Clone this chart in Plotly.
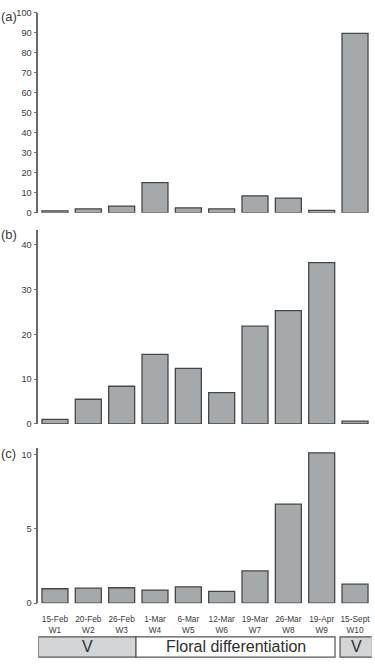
import plotly.graph_objects as go

dates = ["15-Feb", "20-Feb", "26-Feb", "1-Mar", "6-Mar", "12-Mar", "19-Mar", "26-Mar", "19-Apr", "15-Sept"]
weeks = ["W1", "W2", "W3", "W4", "W5", "W6", "W7", "W8", "W9", "W10"]
values_a = [1.0, 2.0, 3.4, 15.1, 2.5, 2.0, 8.5, 7.4, 1.2, 89.7]
values_b = [1.0, 5.5, 8.4, 15.5, 12.4, 7.0, 21.8, 25.3, 36.0, 0.6]
values_c = [0.97, 1.02, 1.04, 0.88, 1.1, 0.8, 2.17, 6.68, 10.13, 1.28]
panel_labels = ["(a)", "(b)", "(c)"]
phase_names = ["V", "Floral differentiation", "V"]
phase_bounds = [(-0.5, 2.43), (2.43, 8.4), (8.55, 9.52)]
phase_fills = ["#d3d5d7", "#ffffff", "#d3d5d7"]

W, H = 375, 665
FONT = "Liberation Sans, Arial, sans-serif"
cats = [f"{d}<br>{w}" for d, w in zip(dates, weeks)]
idx = list(range(len(cats)))

def py(px):
    return 1 - px / H

fig = go.Figure()
series = [values_a, values_b, values_c]
for i, vals in enumerate(series):
    s = "" if i == 0 else str(i + 1)
    fig.add_trace(go.Bar(
        x=idx, y=vals, xaxis="x" + s, yaxis="y" + s,
        width=0.78,
        marker=dict(color="#a6a9ab", line=dict(color="#474747", width=1.3)),
        showlegend=False,
    ))

xdom = [38.3 / W, 371.7 / W]
ydoms = [[py(211), py(8)], [py(425.3), py(228.3)], [py(607.3), py(450)]]
yranges = [[0, 100], [0, 43.3], [0, 10.44]]
ytickvals = [list(range(0, 101, 10)), [0, 10, 20, 30, 40], [0, 5, 10]]

layout = dict(
    width=W, height=H,
    margin=dict(l=0, r=0, t=0, b=0),
    paper_bgcolor="white", plot_bgcolor="white",
    font=dict(family=FONT, color="#3a3a3a"),
    bargap=0.22,
)
for i in range(3):
    s = "" if i == 0 else str(i + 1)
    layout["xaxis" + s] = dict(
        domain=xdom, range=[-0.5, 9.5], anchor="y" + s,
        showgrid=False, zeroline=False, showline=False,
        tickmode="array", tickvals=idx,
        ticktext=cats if i == 2 else [""] * len(cats),
        showticklabels=(i == 2), ticks="",
        tickfont=dict(size=8.3, color="#3a3a3a"),
        ticklabelstandoff=10,
        fixedrange=True,
    )
    layout["yaxis" + s] = dict(
        domain=ydoms[i], range=yranges[i], anchor="x" + s,
        showgrid=False, zeroline=False,
        showline=True, linecolor="#6a6a6a", linewidth=1.5,
        ticks="outside", ticklen=3, tickcolor="#6a6a6a", tickwidth=1,
        tickvals=ytickvals[i], tickfont=dict(size=9.2, color="#3a3a3a"),
        ticklabelstandoff=0,
        fixedrange=True,
    )

annotations = []
label_y = [11.5, 233.3, 455]
for lab, yy in zip(panel_labels, label_y):
    annotations.append(dict(
        text=lab, x=0, xref="paper", xanchor="left", y=py(yy), yref="paper",
        yanchor="middle", showarrow=False, borderpad=0,
        font=dict(size=13, color="#3a3a3a"),
    ))

shapes = []
for name, (x0, x1), fill in zip(phase_names, phase_bounds, phase_fills):
    shapes.append(dict(
        type="rect", xref="x3", yref="paper", x0=x0, x1=x1,
        y0=py(662), y1=py(641.5), fillcolor=fill,
        line=dict(color="#555555", width=1.2), layer="above",
    ))
    annotations.append(dict(
        text=name, x=(x0 + x1) / 2, xref="x3", y=py(651.8), yref="paper",
        xanchor="center", yanchor="middle", showarrow=False,
        font=dict(size=16, color="#2e2e2e"),
    ))

layout["annotations"] = annotations
layout["shapes"] = shapes
fig.update_layout(**layout)
fig.write_html("out.html", config={"displayModeBar": False})

with open("out.html", "r", encoding="utf-8") as f:
    html = f.read()
html = html.replace("<head>", "<head><style>html,body{margin:0;padding:0;overflow:hidden;}</style>", 1)
with open("out.html", "w", encoding="utf-8") as f:
    f.write(html)
